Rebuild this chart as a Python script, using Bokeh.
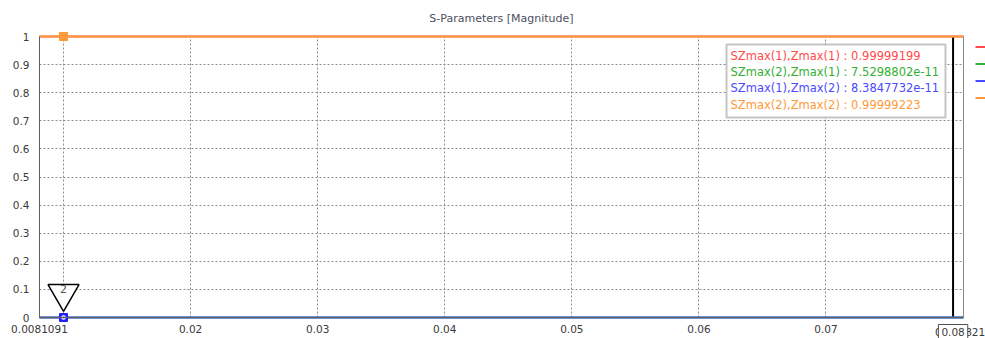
from bokeh.plotting import figure
from bokeh.models import (Range1d, FixedTicker, Label, BoxAnnotation,
                          Legend, LegendItem, LinearAxis)
from bokeh.embed import file_html
from bokeh.resources import INLINE

# ---------------- data ----------------
freq = [0.0081091, 0.0808211]
series_names = ["SZmax(1),Zmax(1)", "SZmax(2),Zmax(1)",
                "SZmax(1),Zmax(2)", "SZmax(2),Zmax(2)"]
series_values = [0.99999199, 7.5298802e-11, 8.3847732e-11, 0.99999223]
series_value_text = ["0.99999199", "7.5298802e-11", "8.3847732e-11", "0.99999223"]
series_colors = ["#ff4a4a", "#33b033", "#4a4aff", "#ff9a3a"]

x_ticks = [0.0081091, 0.01, 0.02, 0.03, 0.04, 0.05, 0.06, 0.07, 0.08]
x_tick_labels = ["0.0081091", "", "0.02", "0.03", "0.04", "0.05", "0.06", "0.07", ""]
y_ticks = [0.0, 0.1, 0.2, 0.3, 0.4, 0.5, 0.6, 0.7, 0.8, 0.9, 1.0]
y_tick_labels = ["0", "0.1", "0.2", "0.3", "0.4", "0.5", "0.6", "0.7", "0.8", "0.9", "1"]

marker_x = 0.01
marker_name = "2"
marker_line_x = 0.08
marker_line_label = "0.08"
x_end_label = "0.0808211"
title_text = "S-Parameters [Magnitude]"

# ---------------- layout (pixels) ----------------
FONT = "DejaVu Sans"
W, H = 985, 338
AREA_W, AREA_H = 924, 281        # the plotted data area
EXTRA_L, EXTRA_T = 39, 36        # room left of / above the data area
EXTRA_R = W - EXTRA_L - AREA_W   # room right (legend stubs)
EXTRA_B = H - EXTRA_T - AREA_H   # room below (tick labels)

x_span = freq[-1] - freq[0]
y_span = y_ticks[-1] - y_ticks[0]
x_start = freq[0] - x_span * EXTRA_L / AREA_W
x_end = freq[-1] + x_span * EXTRA_R / AREA_W
y_lo = y_ticks[0] - y_span * EXTRA_B / AREA_H
y_hi = y_ticks[-1] + y_span * EXTRA_T / AREA_H

p = figure(width=W, height=H, output_backend="svg", toolbar_location=None,
           x_range=Range1d(x_start, x_end), y_range=Range1d(y_lo, y_hi),
           min_border_left=0, min_border_right=0,
           min_border_top=0, min_border_bottom=0)
p.background_fill_color = "white"
p.border_fill_color = "white"
p.outline_line_color = None

# axes (placed inside the frame at the data-area edges)
p.xaxis.fixed_location = y_ticks[0]
p.xaxis.bounds = (freq[0], freq[-1])
p.xaxis.ticker = FixedTicker(ticks=x_ticks)
p.xaxis.major_label_overrides = dict(zip(x_ticks, x_tick_labels))
p.yaxis.fixed_location = freq[0]
p.yaxis.bounds = (y_ticks[0], y_ticks[-1])
p.yaxis.ticker = FixedTicker(ticks=y_ticks)
p.yaxis.major_label_overrides = dict(zip(y_ticks, y_tick_labels))
for ax in (p.xaxis, p.yaxis):
    ax.major_tick_out = 0
    ax.major_tick_in = 0
    ax.minor_tick_out = 0
    ax.minor_tick_in = 0
    ax.major_label_text_font = FONT
    ax.major_label_text_font_size = "10.5px"
    ax.major_label_text_color = "#3a3a3a"
    ax.axis_line_color = "#606060"
p.xaxis.major_label_standoff = 7
p.yaxis.major_label_standoff = 10

# right border of the data area
right_axis = LinearAxis(fixed_location=freq[-1], bounds=(y_ticks[0], y_ticks[-1]),
                        ticker=FixedTicker(ticks=[]), axis_line_color="#8a8a8a",
                        major_label_text_alpha=0, major_tick_out=0, minor_tick_out=0)
p.add_layout(right_axis, "right")

p.xgrid.ticker = FixedTicker(ticks=x_ticks[1:])
p.ygrid.ticker = FixedTicker(ticks=y_ticks)
p.xgrid.cross_bounds = (y_ticks[0], y_ticks[-1])
p.ygrid.cross_bounds = (freq[0], freq[-1])
for g in (p.xgrid, p.ygrid):
    g.grid_line_color = "#8c8c8c"
    g.grid_line_dash = "2 2"
    g.grid_line_width = 1

# marker line at 0.08
p.segment([marker_line_x], [y_ticks[0]], [marker_line_x], [y_ticks[-1]],
          line_color="black", line_width=2)

# series
renderers = []
for name, val, col in zip(series_names, series_values, series_colors):
    r = p.line(freq, [val, val], line_color=col, line_width=2)
    renderers.append(r)

# markers at marker_x
p.scatter([marker_x], [series_values[3]], marker="square", size=8,
          fill_color=series_colors[3], line_color=series_colors[3])
p.scatter([marker_x], [series_values[2]], marker="square", size=8,
          fill_color="#2020ff", line_color="#2020ff")
p.scatter([marker_x], [series_values[2]], marker="circle", size=4,
          fill_color="#b0b0ff", line_color="#d0d0ff")

# triangle flag of marker 2
tri_offset = 24 / AREA_H
p.scatter([marker_x], [series_values[2] + tri_offset], marker="inverted_triangle",
          size=31, fill_color="white", line_color="black", line_width=1.5)
p.add_layout(Label(x=marker_x, y=series_values[2], y_offset=29, text=marker_name,
                   text_align="center", text_baseline="middle",
                   text_font=FONT, text_font_size="11px", text_color="#555555"))

# x end label partly hidden and boxed 0.08 label
p.add_layout(Label(x=freq[-1], y=0, y_offset=-14, text=x_end_label,
                   text_align="center", text_baseline="middle",
                   text_font=FONT, text_font_size="10.5px", text_color="#3a3a3a"))
p.add_layout(Label(x=marker_line_x, y=0, y_offset=-14, text=marker_line_label,
                   text_align="center", text_baseline="middle",
                   text_font=FONT, text_font_size="10.5px", text_color="#3a3a3a",
                   background_fill_color="white", background_fill_alpha=1,
                   border_line_color="#505050", border_line_width=1, padding=3))

# title
p.add_layout(Label(x=(freq[0] + freq[-1]) / 2, y=y_ticks[-1], y_offset=18,
                   text=title_text, text_align="center", text_baseline="middle",
                   text_font=FONT, text_font_size="11px", text_color="#4a5060"))

# marker value box
BX = EXTRA_L
p.add_layout(BoxAnnotation(left=BX + 687, right=BX + 906, top=294, bottom=221,
                           left_units="screen", right_units="screen",
                           top_units="screen", bottom_units="screen",
                           fill_color="white", fill_alpha=1,
                           line_color="#3a3a3a", line_width=2))
for i, (name, vt, col) in enumerate(zip(series_names, series_value_text, series_colors)):
    p.add_layout(Label(x=BX + 691, y=283 - i * 16.4, x_units="screen", y_units="screen",
                       text=f"{name} : {vt}", text_align="left", text_baseline="middle",
                       text_font=FONT, text_font_size="11.5px", text_color=col))

# side legend (only its line stubs reach into the window)
legend = Legend(items=[LegendItem(label="", renderers=[r]) for r in renderers],
                location=(BX + 936, 232), padding=0, margin=0, spacing=0,
                glyph_width=12, glyph_height=17, label_height=17,
                label_standoff=0, label_width=0, label_text_font=FONT,
                label_text_font_size="10px", border_line_alpha=0,
                background_fill_alpha=0)
p.add_layout(legend)

open("out.html", "w").write(file_html(p, INLINE))
